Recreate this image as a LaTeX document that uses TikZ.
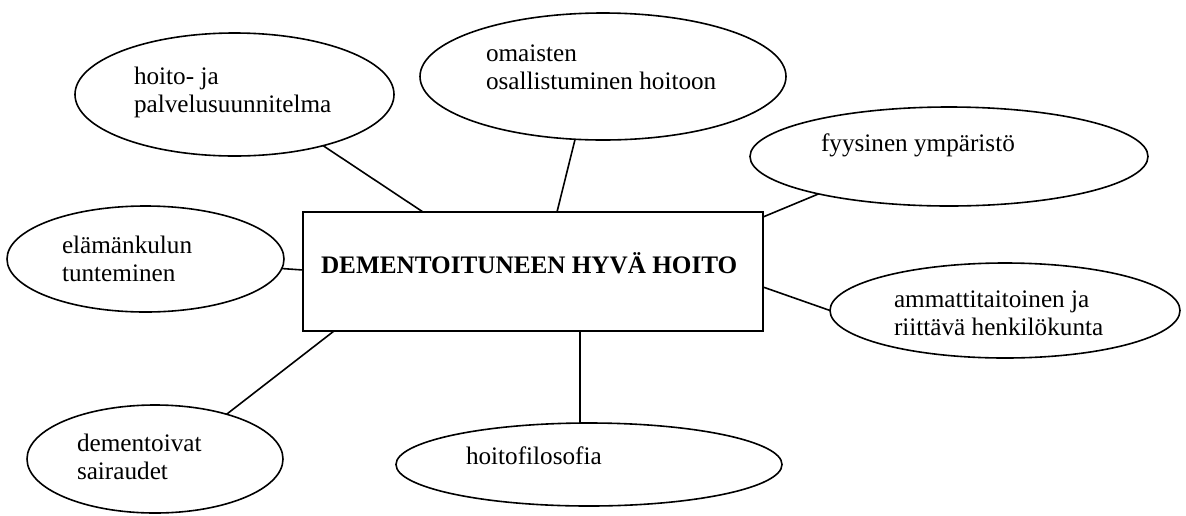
\documentclass[tikz,border=0pt]{standalone}
\usepackage{fontspec}
\setmainfont{Liberation Serif}
\usetikzlibrary{shapes.geometric}
\begin{document}
\begin{tikzpicture}[x=1pt,y=-1pt,
  every node/.style={inner sep=0pt,outer sep=0pt},
  bubble/.style={draw,ellipse,line width=1.6pt},
  mainbox/.style={draw,rectangle,line width=1.6pt},
  lbl/.style={anchor=base west,font=\fontsize{25.2}{28}\selectfont},
  link/.style={line width=1.6pt}]
\useasboundingbox (0,0) rectangle (1186,515);
% ellipses
\node[bubble,minimum width=319pt,minimum height=123pt] (e1) at (234.5,94.5) {};
\node[bubble,minimum width=366pt,minimum height=127pt] (e2) at (603,76.5) {};
\node[bubble,minimum width=398pt,minimum height=99pt] (e3) at (949,156.5) {};
\node[bubble,minimum width=277pt,minimum height=106pt] (e4) at (145.5,259) {};
\node[bubble,minimum width=350pt,minimum height=95pt] (e5) at (1005,310.5) {};
\node[bubble,minimum width=256pt,minimum height=108pt] (e6) at (155,459) {};
\node[bubble,minimum width=386pt,minimum height=83pt] (e7) at (589,464.5) {};
% central box
\node[mainbox,minimum width=460pt,minimum height=119pt] (rect) at (533,271.5) {};
% texts
\node[lbl] (t1) at (134,84) {\vtop{\hbox{hoito- ja}\hbox{palvelusuunnitelma}}};
\node[lbl] (t2) at (486,61) {\vtop{\hbox{omaisten}\hbox{osallistuminen hoitoon}}};
\node[lbl] (t3) at (821,151) {fyysinen ympäristö};
\node[lbl] (t4) at (62,253) {\vtop{\hbox{elämänkulun}\hbox{tunteminen}}};
\node[lbl] (t5) at (894,307) {\vtop{\hbox{ammattitaitoinen ja}\hbox{riittävä henkilökunta}}};
\node[lbl] (t6) at (77,451) {\vtop{\hbox{dementoivat}\hbox{sairaudet}}};
\node[lbl] (t7) at (466,464) {hoitofilosofia};
\node[lbl] (tc) at (321,273) {\bfseries DEMENTOITUNEEN HYVÄ HOITO};
% connectors
\draw[link] (e1.-30.2) -- ([xshift=120pt]rect.north west);
\draw[link] (e2.-114.2) -- ([xshift=254pt]rect.north west);
\draw[link] (e3.-164.7) -- ([yshift=-5pt]rect.north east);
\draw[link] (e4.-4.5) -- ([yshift=1.5pt]rect.west);
\draw[link] ([yshift=-75pt]rect.north east) -- (e5.west);
\draw[link] ([xshift=31pt]rect.south west) -- (e6.32.6);
\draw[link] ([xshift=277pt]rect.south west) -- ([xshift=-9pt]e7.north);
\end{tikzpicture}
\end{document}
